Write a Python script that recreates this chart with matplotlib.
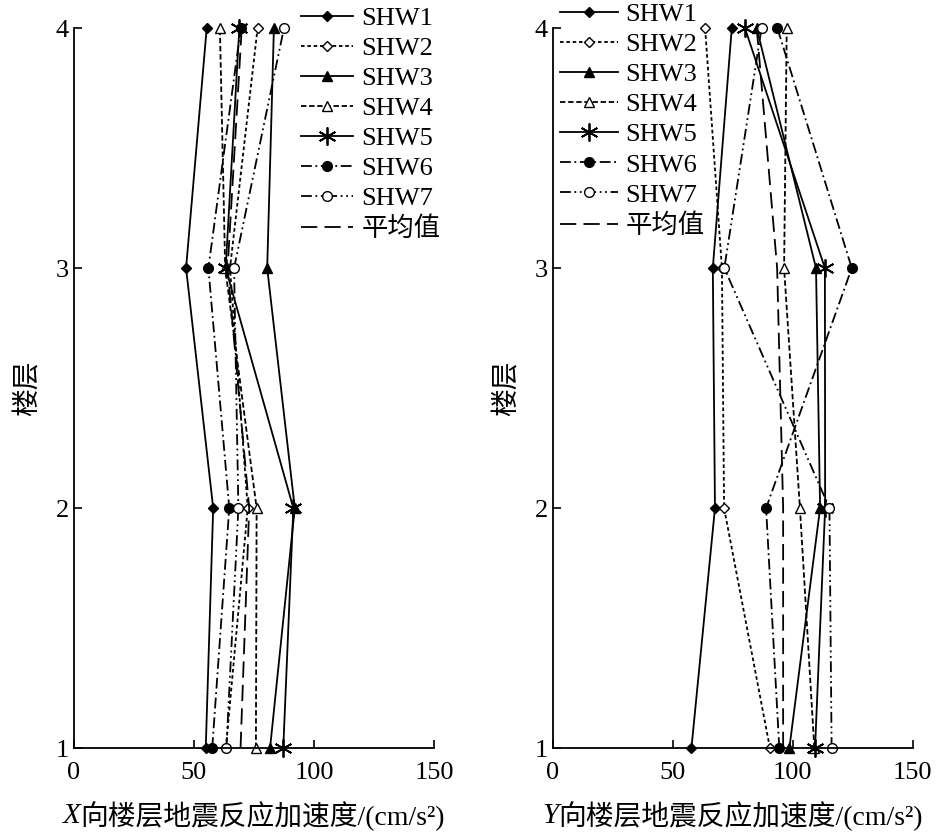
import matplotlib
matplotlib.use("Agg")
import matplotlib.pyplot as plt

plt.rcParams['font.family'] = ['Liberation Serif', 'Noto Sans CJK SC']

floors = [1, 2, 3, 4]
names = ["SHW1", "SHW2", "SHW3", "SHW4", "SHW5", "SHW6", "SHW7", "平均值"]
x_vals = [
    [54.9, 58.0, 46.7, 55.3],
    [63.3, 72.4, 65.0, 76.5],
    [81.7, 92.0, 80.5, 83.3],
    [75.8, 76.1, 63.0, 60.8],
    [87.2, 91.4, 63.2, 68.9],
    [57.6, 64.7, 56.0, 69.5],
    [63.5, 68.5, 66.7, 87.5],
    [69.4, 73.0, 64.0, 69.9],
]
y_vals = [
    [57.8, 67.6, 66.7, 74.6],
    [90.5, 71.4, 70.5, 63.5],
    [98.6, 111.4, 109.7, 85.0],
    [109.0, 103.0, 96.4, 97.5],
    [109.3, 113.5, 113.4, 80.1],
    [94.4, 88.9, 124.6, 93.6],
    [116.2, 115.3, 71.5, 87.0],
    [96.0, 96.0, 93.5, 85.0],
]
axis_letters = ["X", "Y"]
xlabel_rest = "向楼层地震反应加速度/(cm/s²)"

star = (6, 2, 0)
styles = [
    dict(ls='-', marker='D', mfc='k', ms=5),
    dict(ls=(0, (2, 1.5)), marker='D', mfc='w', ms=5),
    dict(ls='-', marker='^', mfc='k', ms=7),
    dict(ls=(0, (3, 1.5)), marker='^', mfc='w', ms=7),
    dict(ls='-', marker=star, mfc='k', ms=13, mew=1.3),
    dict(ls=(0, (6, 2, 1, 2)), marker='o', mfc='k', ms=7),
    dict(ls=(0, (6, 2, 1, 2, 1, 2)), marker='o', mfc='w', ms=7),
    dict(ls=(0, (9, 4)), marker=None),
]

fig = plt.figure(figsize=(9.4, 8.4), dpi=100)
axL = fig.add_axes([0.0787, 0.1095, 0.383, 0.857])
axR = fig.add_axes([0.588, 0.1095, 0.383, 0.857])

for ax, data, letter in [(axL, x_vals, axis_letters[0]), (axR, y_vals, axis_letters[1])]:
    for name, vals, st in zip(names, data, styles):
        ax.plot(vals, floors, color='k', lw=1.3, mec='k', label=name,
                clip_on=False, **st)
    ax.set_xlim(0, 150)
    ax.set_ylim(1, 4)
    ax.set_xticks([0, 50, 100, 150])
    ax.set_yticks([1, 2, 3, 4])
    ax.tick_params(direction='in', labelsize=19, length=6, width=1.2)
    ax.tick_params(axis='x', pad=10)
    for s in ['top', 'right']:
        ax.spines[s].set_visible(False)
    for s in ['left', 'bottom']:
        ax.spines[s].set_linewidth(1.3)
    ax.set_ylabel("楼层", fontsize=20, labelpad=10)
    ax.text(0.5, -0.095, letter, transform=ax.transAxes, fontsize=21,
            style='italic', ha='right', va='center')
    ax.text(0.5, -0.095, xlabel_rest, transform=ax.transAxes, fontsize=20,
            ha='left', va='center')

fig.canvas.draw()
r = fig.canvas.get_renderer()
for ax in (axL, axR):
    txts = ax.texts
    w1 = txts[0].get_window_extent(r).width
    w2 = txts[1].get_window_extent(r).width
    axw = ax.get_window_extent(r).width
    x0 = 0.5 + (w1 - (w1 + w2) / 2) / axw
    txts[0].set_x(x0)
    txts[1].set_x(x0)

axL.legend(loc='upper left', bbox_to_anchor=(0.6, 1.045), frameon=False,
           fontsize=19, handlelength=2.0, labelspacing=0.25, borderaxespad=0,
           handletextpad=0.3)
axR.legend(loc='upper left', bbox_to_anchor=(-0.01, 1.05), frameon=False,
           fontsize=19, handlelength=2.2, labelspacing=0.25, borderaxespad=0,
           handletextpad=0.3)

fig.savefig("out.png", dpi=100)
